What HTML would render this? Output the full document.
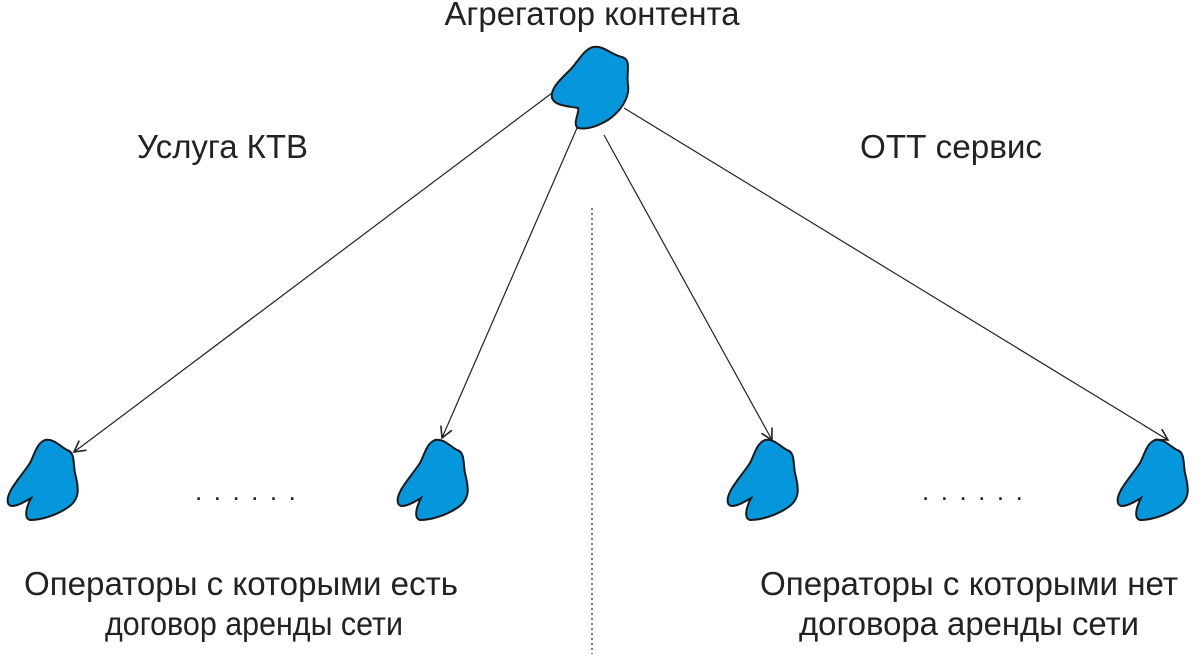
<!DOCTYPE html>
<html><head><meta charset="utf-8"><style>
body{margin:0;background:#fff;width:1200px;height:654px;overflow:hidden}
svg text{font-family:"Liberation Sans",sans-serif;fill:#222}
</style></head><body>
<svg width="1200" height="654" viewBox="0 0 1200 654">
<defs>
<path id="b" d="M40,2 C48,0 55,8 62,12 C70,14 68,25 70,35 C72,45 78,60 62,70 C50,78 35,82 25,82 C18,80 22,68 26,60 C18,65 5,72 3,65 C0,55 15,40 25,25 C30,15 32,5 40,2Z" fill="#0596db" stroke="#1a1a1a" stroke-width="2"/>
<marker id="a" markerWidth="14" markerHeight="14" refX="12" refY="7" orient="auto" markerUnits="userSpaceOnUse"><path d="M1,1 L12,7 L1,13" fill="none" stroke="#222" stroke-width="1.6"/></marker>
</defs>
<g stroke="#222" stroke-width="1.2" fill="none">
<line x1="556" y1="90" x2="74" y2="452" marker-end="url(#a)"/>
<line x1="577" y1="128" x2="442" y2="438" marker-end="url(#a)"/>
<line x1="604" y1="135" x2="772" y2="440" marker-end="url(#a)"/>
<line x1="624" y1="108" x2="1168" y2="440" marker-end="url(#a)"/>
<line x1="592" y1="208" x2="592" y2="654" stroke-dasharray="2,3"/>
</g>
<path d="M593,47 C603,45 612,55 622,57 C632,60 626,72 628,85 C630,98 620,112 608,120 C598,126 588,130 578,128 C572,124 580,112 578,108 C568,106 555,106 552,98 C550,88 562,78 570,70 C578,62 583,50 593,47Z" fill="#0596db" stroke="#1a1a1a" stroke-width="2"/>
<use href="#b" x="5" y="438"/>
<use href="#b" x="395" y="438"/>
<use href="#b" x="725" y="438"/>
<use href="#b" x="1115" y="438"/>
<text x="592" y="25" font-size="33" text-anchor="middle" textLength="295" lengthAdjust="spacingAndGlyphs">Агрегатор контента</text>
<text x="137" y="158" font-size="33" textLength="171" lengthAdjust="spacingAndGlyphs">Услуга КТВ</text>
<text x="860" y="158" font-size="33" textLength="182" lengthAdjust="spacingAndGlyphs">ОТТ сервис</text>
<text x="195" y="500" font-size="26" letter-spacing="11.5">......</text>
<text x="922" y="500" font-size="26" letter-spacing="11.5">......</text>
<text x="241" y="595" font-size="33" text-anchor="middle" textLength="434" lengthAdjust="spacingAndGlyphs">Операторы с которыми есть</text>
<text x="254" y="635" font-size="33" text-anchor="middle" textLength="298" lengthAdjust="spacingAndGlyphs">договор аренды сети</text>
<text x="969" y="595" font-size="33" text-anchor="middle" textLength="418" lengthAdjust="spacingAndGlyphs">Операторы с которыми нет</text>
<text x="969" y="635" font-size="33" text-anchor="middle" textLength="340" lengthAdjust="spacingAndGlyphs">договора аренды сети</text>
</svg>
</body></html>
